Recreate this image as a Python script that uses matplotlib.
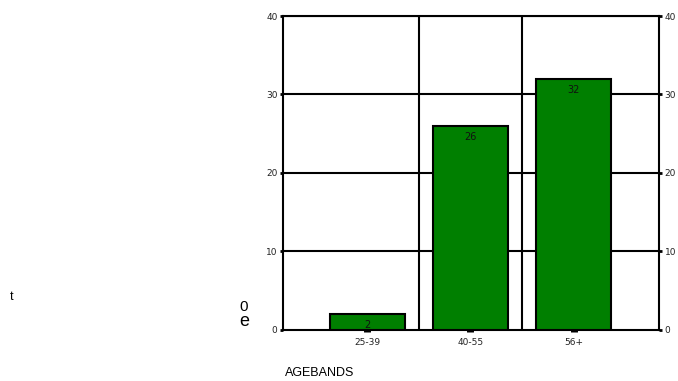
import matplotlib.pyplot as plt

# Age bands and counts per band
age_bands = ['25-39', '40-55', '56+']
counts = [2, 26, 32]
y_ticks = [0, 10, 20, 30, 40]

fig = plt.figure(figsize=(6.78, 3.81), dpi=100)
ax = fig.add_axes([0.4174, 0.1339, 0.5546, 0.8241])

x = list(range(len(age_bands)))
bars = ax.bar(x, counts, width=0.73, color='#007f00', edgecolor='black',
              linewidth=1.5, zorder=3)

# Value labels just inside the top of each bar
for b, v in zip(bars, counts):
    ax.annotate(str(v), (b.get_x() + b.get_width() / 2, v),
                xytext=(0, -8), textcoords='offset points',
                ha='center', va='center', fontsize=7, color='#111111', zorder=4)

ax.set_xlim(-0.82, 2.83)
ax.set_ylim(0, 40)

# Horizontal grid and category separators
for yv in y_ticks[1:]:
    ax.axhline(yv, color='black', linewidth=1.5, zorder=1)
for xv in [0.5, 1.5]:
    ax.axvline(xv, color='black', linewidth=1.5, zorder=1)

for s in ax.spines.values():
    s.set_linewidth(1.5)

ax.set_xticks(x)
ax.set_xticklabels(age_bands, fontsize=6.5, color='#222222')
ax.tick_params(axis='x', direction='out', length=1.5, width=5, pad=4)

ax.set_yticks(y_ticks)
ax.set_yticklabels([str(t) for t in y_ticks], fontsize=6.5, color='#222222')
ax.tick_params(axis='y', direction='out', length=2, width=2, pad=2,
               left=True, right=True, labelleft=True, labelright=True)

fig.text(285 / 678, 1 - 373 / 381, 'AGEBANDS', fontsize=9, ha='left', va='center',
         family='Liberation Sans')
fig.text(10 / 678, 1 - 297 / 381, 't', fontsize=9, ha='left', va='center',
         family='Liberation Sans')
fig.text(244 / 678, 1 - 307 / 381, '0', fontsize=11, ha='center', va='center',
         family='Liberation Sans')
fig.text(244 / 678, 1 - 322 / 381, 'e', fontsize=13, ha='center', va='center',
         family='Liberation Sans')

fig.savefig('out.png', dpi=100)
